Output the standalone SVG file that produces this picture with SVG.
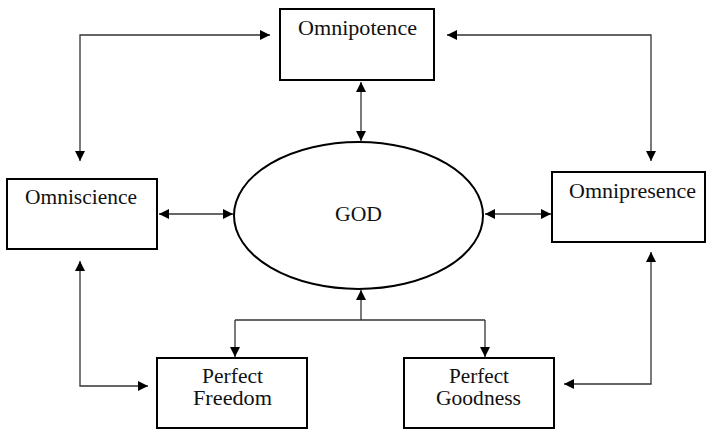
<svg xmlns="http://www.w3.org/2000/svg" width="706" height="429" viewBox="0 0 706 429">
<style>
.box{fill:#fff;stroke:#000;stroke-width:2}
.lbl{font-family:"Liberation Serif","Times New Roman",serif;font-size:20px;fill:#111;text-anchor:middle}
.con{fill:none;stroke:#333;stroke-width:1.3}
</style>
<defs>
<marker id="ah" viewBox="0 0 10 10" refX="10" refY="5" markerWidth="11" markerHeight="10" markerUnits="userSpaceOnUse" orient="auto-start-reverse">
<path d="M0,0 L10,5 L0,10 z" fill="#000"/>
</marker>
</defs>
<rect width="706" height="429" fill="#fff"/>
<g id="connectors">
<path class="con" d="M270,35 H80 V161" marker-start="url(#ah)" marker-end="url(#ah)"/>
<path class="con" d="M447,35 H651 V161" marker-start="url(#ah)" marker-end="url(#ah)"/>
<path class="con" d="M361,82 V141" marker-start="url(#ah)" marker-end="url(#ah)"/>
<path class="con" d="M159,214 H233" marker-start="url(#ah)" marker-end="url(#ah)"/>
<path class="con" d="M485,214 H551" marker-start="url(#ah)" marker-end="url(#ah)"/>
<path class="con" d="M80,261 V386 H148" marker-start="url(#ah)" marker-end="url(#ah)"/>
<path class="con" d="M651,252 V384 H564" marker-start="url(#ah)" marker-end="url(#ah)"/>
<path class="con" d="M361,320 V290" marker-end="url(#ah)"/>
<path class="con" d="M235,320 H485"/>
<path class="con" d="M235,320 V357" marker-end="url(#ah)"/>
<path class="con" d="M485,320 V357" marker-end="url(#ah)"/>
</g>
<g id="god">
<ellipse cx="358.5" cy="215.5" rx="124.5" ry="73.5" fill="#fff" stroke="#000" stroke-width="2"/>
<text class="lbl" x="358.5" y="221" textLength="47" lengthAdjust="spacingAndGlyphs">GOD</text>
</g>
<g id="omnipotence">
<rect class="box" x="280" y="9" width="154" height="71"/>
<text class="lbl" x="357.5" y="35" textLength="119" lengthAdjust="spacingAndGlyphs">Omnipotence</text>
</g>
<g id="omniscience">
<rect class="box" x="7" y="179" width="150" height="70"/>
<text class="lbl" x="81" y="204" textLength="112" lengthAdjust="spacingAndGlyphs">Omniscience</text>
</g>
<g id="omnipresence">
<rect class="box" x="552" y="172" width="153" height="70"/>
<text class="lbl" x="632.5" y="198" textLength="127" lengthAdjust="spacingAndGlyphs">Omnipresence</text>
</g>
<g id="perfect-freedom">
<rect class="box" x="157" y="358" width="150" height="70"/>
<text class="lbl" x="232.5" y="383" textLength="61" lengthAdjust="spacingAndGlyphs">Perfect</text>
<text class="lbl" x="232.5" y="405" textLength="79" lengthAdjust="spacingAndGlyphs">Freedom</text>
</g>
<g id="perfect-goodness">
<rect class="box" x="404" y="358" width="150" height="70"/>
<text class="lbl" x="479" y="383" textLength="60" lengthAdjust="spacingAndGlyphs">Perfect</text>
<text class="lbl" x="478.5" y="405" textLength="85" lengthAdjust="spacingAndGlyphs">Goodness</text>
</g>
</svg>
